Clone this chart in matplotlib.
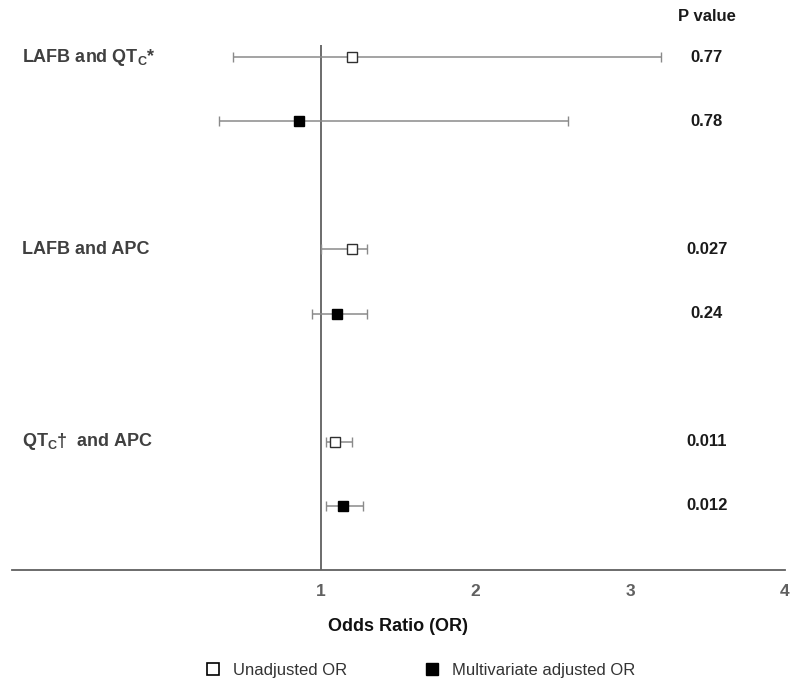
import numpy as np
import matplotlib.pyplot as plt
from matplotlib.lines import Line2D

plt.rcParams['font.family'] = ['Liberation Sans', 'DejaVu Sans']
plt.rcParams['mathtext.fontset'] = 'custom'
plt.rcParams['mathtext.rm'] = 'Liberation Sans'
plt.rcParams['mathtext.bf'] = 'Liberation Sans:bold'

# Datos
etiquetas = [r'LAFB and QT$_\mathbf{C}$*', 'LAFB and APC', r'QT$_\mathbf{C}$†  and APC']
filas = [0, 1, 3, 4, 6, 7]
or_val = [1.20, 0.86, 1.20, 1.10, 1.09, 1.14]
ci_low = [0.43, 0.34, 1.00, 0.94, 1.03, 1.03]
ci_high = [3.20, 2.60, 1.30, 1.30, 1.20, 1.27]
ajustado = [False, True, False, True, False, True]
p_valores = ['0.77', '0.78', '0.027', '0.24', '0.011', '0.012']

fig = plt.figure(figsize=(8, 6.91), dpi=100)
ax = fig.add_axes([0.015, 0.175, 0.966, 0.76])

for y, m, lo, hi, adj in zip(filas, or_val, ci_low, ci_high, ajustado):
    ax.errorbar([m], [y], xerr=[[m - lo], [hi - m]], fmt='none', ecolor='#8a8a8a',
                elinewidth=1.1, capsize=3.5, capthick=1.0, zorder=2)
    ax.plot([m], [y], 's', ms=7.5 if adj else 7, mfc='black' if adj else 'white',
            mec='#303030' if not adj else 'black', mew=1.0, zorder=3)

ax.axvline(1, color='#606060', lw=1.3, zorder=1)

ax.set_xlim(-1, 4)
ax.set_ylim(8, -0.19)
for s in ['top', 'right', 'left']:
    ax.spines[s].set_visible(False)
ax.spines['bottom'].set_color('#606060')
ax.spines['bottom'].set_linewidth(1.3)
ax.set_yticks([])
ax.set_xticks([1, 2, 3, 4])
ax.tick_params(axis='x', length=0, pad=10, labelsize=12.5, labelcolor='#606060')
for t in ax.get_xticklabels():
    t.set_fontweight('bold')

ax.set_xlabel('Odds Ratio (OR)', fontsize=13, fontweight='bold', labelpad=14, color='#111111')

tr = ax.get_yaxis_transform()
for lab, y in zip(etiquetas, [0, 3, 6]):
    ax.text(0.013, y, lab, transform=tr, fontsize=13, fontweight='bold',
            color='#404040', va='center', ha='left')
for p, y in zip(p_valores, filas):
    ax.text(0.899, y, p, transform=tr, fontsize=12, fontweight='bold',
            color='#1a1a1a', va='center', ha='center')
ax.text(0.899, -0.63, 'P value', transform=tr, fontsize=12, fontweight='bold',
        color='#1a1a1a', va='center', ha='center', clip_on=False)

handles = [Line2D([], [], ls='none', marker='s', ms=8, mfc='white', mec='black', mew=1.2),
           Line2D([], [], ls='none', marker='s', ms=8, mfc='black', mec='black')]
fig.legend(handles, ['Unadjusted OR', 'Multivariate adjusted OR'], loc='center',
           bbox_to_anchor=(0.525, 0.03), ncol=2, frameon=False, fontsize=12,
           handlelength=1, handletextpad=0.7, columnspacing=4.6, labelcolor='#333333')

plt.savefig('out.png', dpi=100)
